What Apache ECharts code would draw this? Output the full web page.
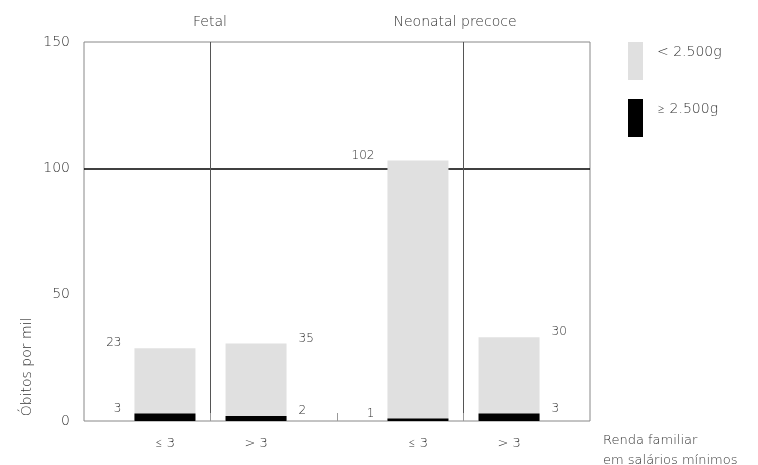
<!DOCTYPE html>
<html>
<head>
<meta charset="utf-8">
<script src="https://cdn.jsdelivr.net/npm/echarts@6/dist/echarts.min.js"></script>
<style>html,body{margin:0;padding:0;background:#fff;}#c{width:758px;height:465px;}</style>
</head>
<body>
<div id="c"></div>
<script>
// ---- data ----
const groups = ['Fetal', 'Neonatal precoce'];
const categories = ['≤ 3', '> 3', '≤ 3', '> 3'];
const seriesNames = ['< 2.500g', '≥ 2.500g'];
// bar segment heights as drawn (óbitos por mil)
const lowWeight = [25.8, 28.7, 102.1, 30.1];
const normalWeight = [3, 2, 1, 3];
// printed value labels
const lowWeightLabels = ['23', '35', '102', '30'];
const normalWeightLabels = ['3', '2', '1', '3'];
const yTicks = { min: 0, max: 150, interval: 50 };
const yAxisTitle = 'Óbitos por mil';
const xAxisTitle = 'Renda familiar\nem salários mínimos';

// ---- layout (slot positions on a 0..100 horizontal scale) ----
const SLOT = [16, 34, 66, 84];
const FONT = '"DejaVu Sans", "Lato Light", "Liberation Sans", sans-serif';
const FW = 200;
const TXT = '#333';

function labelFor(i, text) {
  const left = i % 2 === 0;
  return {
    show: true,
    formatter: text,
    position: left ? [0, 0] : ['100%', 0],
    offset: left ? [-13, -5] : [12, -5],
    align: left ? 'right' : 'left',
    verticalAlign: 'middle',
    fontSize: 12,
    fontWeight: FW,
    color: TXT,
    fontFamily: FONT
  };
}

// stacked totals: gray segment sits on top of the black segment
const totals = lowWeight.map((v, i) => v + normalWeight[i]);
const grayData = totals.map((v, i) => ({ value: [SLOT[i], v], label: labelFor(i, lowWeightLabels[i]) }));
const blackData = normalWeight.map((v, i) => ({ value: [SLOT[i], v], label: labelFor(i, normalWeightLabels[i]) }));

const chart = echarts.init(document.getElementById('c'));
chart.setOption({
  animation: false,
  backgroundColor: '#fff',
  textStyle: { fontFamily: FONT, fontWeight: FW },
  grid: { left: 84, right: 168, top: 42, bottom: 44, show: true, borderColor: '#888', borderWidth: 1, backgroundColor: 'transparent' },
  legend: {
    orient: 'vertical', left: 628, top: 42, padding: 0,
    data: [seriesNames[0], seriesNames[1]],
    icon: 'rect', itemWidth: 15, itemHeight: 38, itemGap: 19,
    formatter: n => n + '\n',
    textStyle: { fontSize: 14, lineHeight: 18, color: TXT, fontFamily: FONT, fontWeight: FW, padding: [0, 0, 0, 9] },
    selectedMode: false
  },
  xAxis: {
    type: 'value', min: 0, max: 100, interval: 25,
    axisLine: { show: false },
    axisTick: { show: true, customValues: [25, 50, 75], inside: true, length: 8, lineStyle: { color: '#999' } },
    axisLabel: {
      customValues: SLOT, margin: 16, fontSize: 13, color: TXT, fontFamily: FONT, fontWeight: FW,
      formatter: v => categories[SLOT.indexOf(v)] || ''
    },
    splitLine: { show: true, lineStyle: { color: ['#555', 'transparent', '#555'], width: 1 } }
  },
  yAxis: {
    type: 'value', min: yTicks.min, max: yTicks.max, interval: yTicks.interval,
    axisLine: { show: false }, axisTick: { show: false },
    axisLabel: { fontSize: 14, color: TXT, margin: 14, fontFamily: FONT, fontWeight: FW, padding: [0, 0, 10, 0] },
    splitLine: { show: true, lineStyle: { color: ['transparent', 'transparent', '#000', 'transparent'], width: 1.5 } }
  },
  graphic: [
    { type: 'text', x: 210, y: 22, style: { text: groups[0], align: 'center', verticalAlign: 'middle', fontSize: 14, fontWeight: FW, fill: TXT, fontFamily: FONT } },
    { type: 'text', x: 455, y: 22, style: { text: groups[1], align: 'center', verticalAlign: 'middle', fontSize: 14, fontWeight: FW, fill: TXT, fontFamily: FONT } },
    { type: 'text', x: 27, y: 367, rotation: Math.PI / 2, style: { text: yAxisTitle, align: 'center', verticalAlign: 'middle', fontSize: 14, fontWeight: FW, fill: TXT, fontFamily: FONT } },
    { type: 'text', x: 603, y: 431, style: { text: xAxisTitle, align: 'left', verticalAlign: 'top', fontSize: 13, lineHeight: 20, fontWeight: FW, fill: TXT, fontFamily: FONT } }
  ],
  series: [
    { name: seriesNames[0], type: 'bar', barWidth: 61, barGap: '-100%', itemStyle: { color: '#e0e0e0' }, data: grayData, z: 2 },
    { name: seriesNames[1], type: 'bar', barWidth: 61, barGap: '-100%', itemStyle: { color: '#000' }, data: blackData, z: 3 }
  ]
});
</script>
</body>
</html>
